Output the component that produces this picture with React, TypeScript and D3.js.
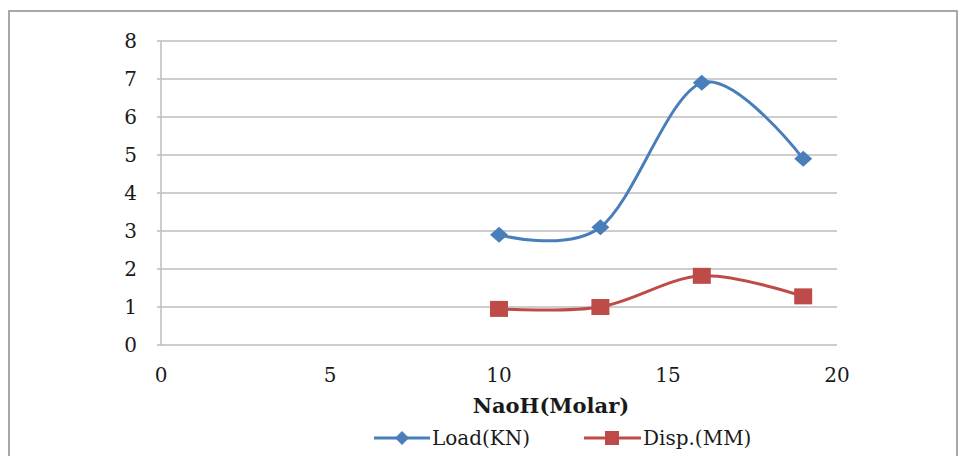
import React, { useEffect, useRef } from 'react';
import * as d3 from 'd3';

const molar = [10, 13, 16, 19];
const loadKN = [2.9, 3.1, 6.9, 4.9];
const dispMM = [0.95, 1.0, 1.82, 1.28];
const xTicks = [0, 5, 10, 15, 20];
const yTicks = [0, 1, 2, 3, 4, 5, 6, 7, 8];
const seriesNames = ['Load(KN)', 'Disp.(MM)'];
const xTitle = 'NaoH(Molar)';

const App = () => {
  const svgRef = useRef<SVGSVGElement>(null);

  useEffect(() => {
    const svg = d3.select(svgRef.current);
    svg.selectAll('*').remove();

    const width = 960;
    const height = 456;
    const font = '"DejaVu Serif", serif';
    const blue = '#4A7EBB';
    const red = '#BE4B48';
    const grid = '#BDBDBD';

    const x = d3.scaleLinear().domain([0, 20]).range([161, 837]);
    const y = d3.scaleLinear().domain([0, 8]).range([345, 41]);

    svg.append('rect').attr('width', width).attr('height', height).attr('fill', '#fff');

    // outer frame
    svg.append('rect')
      .attr('x', 9).attr('y', 11)
      .attr('width', 948).attr('height', 470)
      .attr('fill', 'none')
      .attr('stroke', '#8c8c8c')
      .attr('stroke-width', 1.5);

    // gridlines
    svg.append('g')
      .selectAll('line')
      .data(yTicks)
      .enter().append('line')
      .attr('x1', x(0)).attr('x2', x(20))
      .attr('y1', d => y(d)).attr('y2', d => y(d))
      .attr('stroke', grid)
      .attr('stroke-width', 1.5);

    // y axis line + ticks
    svg.append('line')
      .attr('x1', x(0)).attr('x2', x(0))
      .attr('y1', y(8)).attr('y2', y(0))
      .attr('stroke', grid).attr('stroke-width', 1.5);
    svg.append('g')
      .selectAll('line')
      .data(yTicks)
      .enter().append('line')
      .attr('x1', x(0) - 4).attr('x2', x(0))
      .attr('y1', d => y(d)).attr('y2', d => y(d))
      .attr('stroke', grid).attr('stroke-width', 1.5);

    svg.append('g')
      .selectAll('text')
      .data(yTicks)
      .enter().append('text')
      .attr('x', 137)
      .attr('y', d => y(d))
      .attr('dy', '0.36em')
      .attr('text-anchor', 'end')
      .attr('font-family', font)
      .attr('font-size', 20)
      .attr('fill', '#1a1a1a')
      .text(d => d);

    svg.append('g')
      .selectAll('text')
      .data(xTicks)
      .enter().append('text')
      .attr('x', d => x(d))
      .attr('y', 375)
      .attr('dy', '0.36em')
      .attr('text-anchor', 'middle')
      .attr('font-family', font)
      .attr('font-size', 20)
      .attr('fill', '#1a1a1a')
      .text(d => d);

    svg.append('text')
      .attr('x', 551)
      .attr('y', 405)
      .attr('dy', '0.36em')
      .attr('text-anchor', 'middle')
      .attr('font-family', font)
      .attr('font-size', 21)
      .attr('font-weight', 'bold')
      .attr('fill', '#1a1a1a')
      .text(xTitle);

    const line = d3.line<number>()
      .x((_, i) => x(molar[i]))
      .y(d => y(d))
      .curve(d3.curveCardinal.tension(0));

    svg.append('path')
      .attr('d', line(loadKN))
      .attr('fill', 'none')
      .attr('stroke', blue)
      .attr('stroke-width', 3);
    svg.append('path')
      .attr('d', line(dispMM))
      .attr('fill', 'none')
      .attr('stroke', red)
      .attr('stroke-width', 3);

    const diamond = (cx: number, cy: number, w: number, h: number) =>
      `M${cx},${cy - h}L${cx + w},${cy}L${cx},${cy + h}L${cx - w},${cy}Z`;

    svg.append('g')
      .selectAll('path')
      .data(loadKN)
      .enter().append('path')
      .attr('d', (d, i) => diamond(x(molar[i]), y(d), 9, 8))
      .attr('fill', blue);

    svg.append('g')
      .selectAll('rect')
      .data(dispMM)
      .enter().append('rect')
      .attr('x', (d, i) => x(molar[i]) - 9)
      .attr('y', d => y(d) - 8)
      .attr('width', 18).attr('height', 16)
      .attr('fill', red);

    // legend
    const leg = svg.append('g');
    const legY = 438;
    leg.append('line').attr('x1', 374).attr('x2', 430).attr('y1', legY).attr('y2', legY)
      .attr('stroke', blue).attr('stroke-width', 3);
    leg.append('path').attr('d', diamond(402, legY, 7, 7)).attr('fill', blue);
    leg.append('text').attr('x', 432).attr('y', legY).attr('dy', '0.36em')
      .attr('font-family', font).attr('font-size', 20).attr('fill', '#1a1a1a')
      .text(seriesNames[0]);

    leg.append('line').attr('x1', 584).attr('x2', 641).attr('y1', legY).attr('y2', legY)
      .attr('stroke', red).attr('stroke-width', 3);
    leg.append('rect').attr('x', 605).attr('y', legY - 7).attr('width', 14).attr('height', 14)
      .attr('fill', red);
    leg.append('text').attr('x', 643).attr('y', legY).attr('dy', '0.36em')
      .attr('font-family', font).attr('font-size', 20).attr('fill', '#1a1a1a')
      .text(seriesNames[1]);
  }, []);

  return (
    <svg
      ref={svgRef}
      width="960"
      height="456"
      style={{ position: 'absolute', left: 0, top: 0 }}
    ></svg>
  );
};

export default App;
